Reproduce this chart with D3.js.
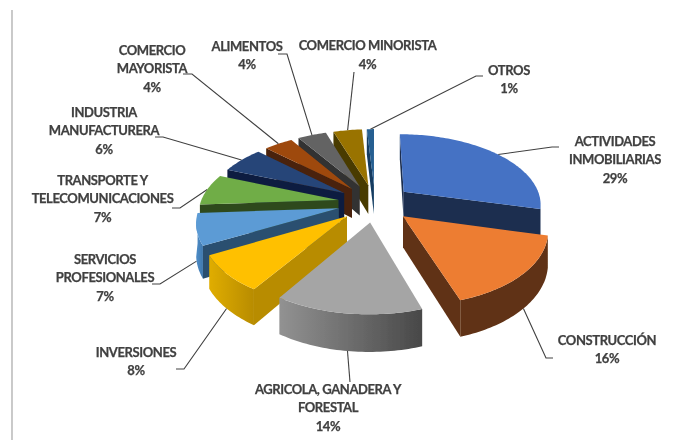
<!DOCTYPE html>
<html>
<head>
<meta charset="utf-8">
<script src="https://cdn.jsdelivr.net/npm/d3@7"></script>
<style>
  html, body { margin: 0; padding: 0; background: #fff; }
  svg { display: block; }
</style>
</head>
<body>
<svg class="pie3d" width="690" height="440"></svg>
<script>
const categories = ["ACTIVIDADES INMOBILIARIAS", "CONSTRUCCIÓN", "AGRICOLA, GANADERA Y FORESTAL", "INVERSIONES", "SERVICIOS PROFESIONALES", "TRANSPORTE Y TELECOMUNICACIONES", "INDUSTRIA MANUFACTURERA", "COMERCIO MAYORISTA", "ALIMENTOS", "COMERCIO MINORISTA", "OTROS"];
const values = [29, 16, 14, 8, 7, 7, 6, 4, 4, 4, 1];
const percentLabels = ["29%", "16%", "14%", "8%", "7%", "7%", "6%", "4%", "4%", "4%", "1%"];

// colours: top face, cut faces, outer wall left -> right
const TOP_COLORS = ["#4472c4", "#ed7d31", "#a5a5a5", "#ffc000", "#5b9bd5", "#70ad47", "#264478", "#9e480e", "#636363", "#997300", "#255e91"];
const CUT_COLORS = ["#1a2d50", "#613214", "#6e6e6e", "#b88c00", "#2a5070", "#2e4a1e", "#0f1f3f", "#4a2208", "#303030", "#4a3b00", "#123a60"];
const WALL_FROM = ["#1a2d50", "#613214", "#929292", "#e0ad00", "#4f8dc8", "#2e4a1e", "#0f1f3f", "#4a2208", "#303030", "#4a3b00", "#123a60"];
const WALL_TO = ["#1a2d50", "#613214", "#484848", "#b88c00", "#3f78ad", "#2e4a1e", "#0f1f3f", "#4a2208", "#303030", "#4a3b00", "#123a60"];

// label placement, one entry per slice. y is the first baseline
const labelLayout = [
  { x: 615, y: 145.5, lines: ["ACTIVIDADES", "INMOBILIARIAS"], elbow: [[552, 147], [559, 147]] },
  { x: 607, y: 344.5, lines: ["CONSTRUCCIÓN"], elbow: [[546, 358], [553, 358]] },
  { x: 328, y: 393.5, lines: ["AGRICOLA, GANADERA Y", "FORESTAL"], elbow: [[350, 382]] },
  { x: 136, y: 356.5, lines: ["INVERSIONES"], elbow: [[184, 369], [176, 369]] },
  { x: 105, y: 263.5, lines: ["SERVICIOS", "PROFESIONALES"], elbow: [[160, 284], [152, 284]] },
  { x: 102.5, y: 184.5, lines: ["TRANSPORTE Y", "TELECOMUNICACIONES"], elbow: [[180, 208], [172, 208]] },
  { x: 104, y: 116.5, lines: ["INDUSTRIA", "MANUFACTURERA"], elbow: [[163, 137], [155, 137]] },
  { x: 152, y: 54.5, lines: ["COMERCIO", "MAYORISTA"], elbow: [[192, 74], [183, 74]] },
  { x: 247, y: 50.5, lines: ["ALIMENTOS"], elbow: [[287, 54], [278, 54]] },
  { x: 367.5, y: 50, lines: ["COMERCIO MINORISTA"], elbow: [[354, 72]] },
  { x: 509, y: 74.5, lines: ["OTROS"], elbow: [[476, 76], [483, 76]] },
];

const svg = d3.select("svg.pie3d");
const CX = 375, CY = 203, RX = 138, RY = 70;
const PERSPECTIVE = 0.16, EXPLODE = 0.27, DEPTH = 30, LINE_HEIGHT = 18.7;

const xScale = d3.scaleLinear().domain([-1, 1]).range([CX - RX, CX + RX]);
const yScale = d3.scaleLinear().domain([-1, 1]).range([CY - RY, CY + RY]);

// ground plane to screen, things nearer the viewer get larger
const project = (u, v, lower) => {
  const s = 1 / (1 - PERSPECTIVE * v);
  return [xScale(u * s), yScale(v * s) + (lower ? DEPTH * s : 0)];
};

const pie = d3.pie().sort(null).value((d) => d);
const slices = pie(values).map((d) => {
  const mid = (d.startAngle + d.endAngle) / 2;
  return {
    ...d,
    mid,
    ox: Math.sin(mid) * EXPLODE,
    oy: -Math.cos(mid) * EXPLODE,
  };
});

const rimPoint = (d, angle, lower) =>
  project(d.ox + Math.sin(angle), d.oy - Math.cos(angle), lower);
const apexPoint = (d, lower) => project(d.ox, d.oy, lower);
const arcAngles = (d) => {
  const steps = Math.max(6, Math.ceil(d.value * 3));
  return d3.range(steps + 1).map((i) => d.startAngle + ((d.endAngle - d.startAngle) * i) / steps);
};

const polygon = d3.line().curve(d3.curveLinearClosed);
const defs = svg.append("defs");

// the reference is a soft screenshot
defs.append("filter")
  .attr("id", "soft")
  .append("feGaussianBlur")
  .attr("stdDeviation", 0.3);

// vertical rule on the left of the picture
svg.append("line")
  .attr("x1", 12).attr("x2", 12)
  .attr("y1", 10).attr("y2", 440)
  .attr("stroke", "#a6a6a6")
  .attr("stroke-width", 1.2);

const chartG = svg.append("g").attr("filter", "url(#soft)");

// LEADERS, under the slices so the walls hide their start
chartG.append("g")
  .selectAll("path")
  .data(slices)
  .enter()
  .append("path")
  .attr("fill", "none")
  .attr("stroke", "#404040")
  .attr("stroke-width", 1.1)
  .attr("d", (d, i) => d3.line()([rimPoint(d, d.mid, Math.cos(d.mid) < 0), ...labelLayout[i].elbow]));

// back slices first, nearest last
const drawOrder = slices.slice().sort((a, b) => apexPoint(a)[1] - apexPoint(b)[1]);

const sliceG = chartG.append("g")
  .selectAll("g")
  .data(drawOrder)
  .enter()
  .append("g");

sliceG.each(function (d) {
  const g = d3.select(this);
  const i = d.index;
  const angles = arcAngles(d);
  const apexTop = apexPoint(d, false), apexLow = apexPoint(d, true);

  // cut faces, only those that face the viewer
  // clockwise outline: start edge runs apex->rim, end edge rim->apex
  [
    { a: d.startAngle, dir: 1 },
    { a: d.endAngle, dir: -1 },
  ].forEach((f) => {
    const top = rimPoint(d, f.a, false), low = rimPoint(d, f.a, true);
    if ((top[0] - apexTop[0]) * f.dir < 0) {
      g.append("path")
        .attr("fill", CUT_COLORS[i])
        .attr("d", polygon([apexTop, top, low, apexLow]));
    }
  });

  // outer wall, visible where the rim runs right to left
  const visible = angles.filter((a) => Math.cos(a) <= 0.02 || Math.abs(Math.sin(a)) > 0.98);
  const front = visible.filter((a, k) => {
    const next = rimPoint(d, a + 0.01, false), here = rimPoint(d, a, false);
    return next[0] < here[0] || k === visible.length - 1;
  });
  if (front.length > 1) {
    const tops = front.map((a) => rimPoint(d, a, false));
    const lows = front.map((a) => rimPoint(d, a, true)).reverse();
    const xs = d3.extent(tops, (p) => p[0]);
    const grad = defs.append("linearGradient")
      .attr("id", `wall-${i}`)
      .attr("gradientUnits", "userSpaceOnUse")
      .attr("x1", xs[0]).attr("x2", xs[1])
      .attr("y1", 0).attr("y2", 0);
    grad.append("stop").attr("offset", 0).attr("stop-color", WALL_FROM[i]);
    grad.append("stop").attr("offset", 1).attr("stop-color", WALL_TO[i]);
    g.append("path")
      .attr("fill", `url(#wall-${i})`)
      .attr("d", polygon([...tops, ...lows]));
  }

  // top face
  g.append("path")
    .attr("fill", TOP_COLORS[i])
    .attr("d", polygon([apexTop, ...angles.map((a) => rimPoint(d, a, false))]));
});

// LABELS
chartG.append("g")
  .selectAll("text")
  .data(labelLayout)
  .enter()
  .append("text")
  .attr("text-anchor", "middle")
  .attr("font-family", "Lato, 'Liberation Sans', sans-serif")
  .attr("font-weight", "bold")
  .attr("font-size", 13)
  .attr("letter-spacing", -0.4)
  .attr("fill", "#404040")
  .attr("stroke", "#404040")
  .attr("stroke-width", 0.25)
  .each(function (d, i) {
    d3.select(this)
      .selectAll("tspan")
      .data([...d.lines, percentLabels[i]])
      .enter()
      .append("tspan")
      .attr("x", d.x)
      .attr("y", (line, k) => d.y + k * LINE_HEIGHT)
      .text((line) => line);
  });
</script>
</body>
</html>
